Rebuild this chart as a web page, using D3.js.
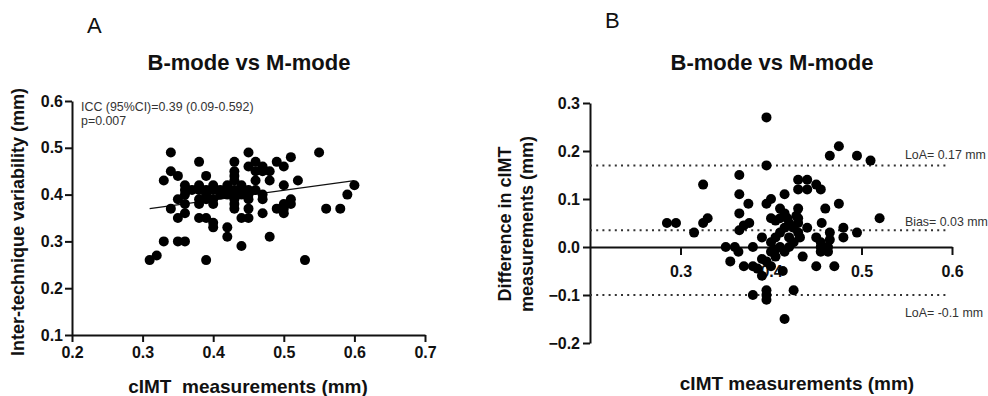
<!DOCTYPE html>
<html>
<head>
<meta charset="utf-8">
<script src="https://cdn.jsdelivr.net/npm/d3@7"></script>
<style>
  body { margin: 0; background: #fff; }
  svg { font-family: "Liberation Sans", Arial, sans-serif; }
  .tick text { font-size: 16px; font-weight: bold; fill: #111; }
  .domain, .tick line { stroke: #111; stroke-width: 2px; }
</style>
</head>
<body>
<div id="chart"></div>
<script>
// panel A: cIMT (x) vs inter-technique variability (y)
var pointsA = [
  [0.34,0.49],[0.45,0.49],[0.55,0.49],[0.51,0.48],[0.38,0.47],[0.43,0.47],[0.46,0.47],[0.49,0.47],
  [0.45,0.46],[0.47,0.46],[0.50,0.46],[0.34,0.45],[0.43,0.45],[0.46,0.45],[0.47,0.45],[0.48,0.45],
  [0.35,0.44],[0.39,0.44],[0.43,0.44],[0.33,0.43],[0.43,0.43],[0.46,0.43],[0.48,0.43],[0.52,0.43],
  [0.36,0.42],[0.38,0.42],[0.50,0.42],[0.60,0.42],[0.40,0.42],[0.42,0.42],[0.44,0.42],
  [0.36,0.41],[0.38,0.41],[0.40,0.41],[0.41,0.41],[0.42,0.41],[0.43,0.41],[0.44,0.41],[0.45,0.41],[0.46,0.41],
  [0.39,0.41],[0.37,0.41],
  [0.39,0.40],[0.41,0.40],[0.43,0.40],[0.47,0.40],[0.59,0.40],[0.36,0.40],[0.42,0.40],[0.44,0.40],[0.45,0.40],
  [0.35,0.39],[0.38,0.39],[0.39,0.39],[0.40,0.39],[0.43,0.39],[0.45,0.39],[0.47,0.39],[0.51,0.39],
  [0.36,0.38],[0.38,0.38],[0.40,0.38],[0.50,0.38],[0.51,0.38],[0.43,0.38],
  [0.34,0.37],[0.43,0.37],[0.45,0.37],[0.49,0.37],[0.50,0.37],[0.56,0.37],[0.58,0.37],
  [0.36,0.36],[0.47,0.36],[0.50,0.36],
  [0.35,0.35],[0.38,0.35],[0.39,0.35],[0.44,0.35],[0.45,0.35],[0.40,0.34],
  [0.40,0.33],[0.42,0.33],[0.42,0.31],[0.48,0.31],
  [0.33,0.30],[0.35,0.30],[0.36,0.30],[0.44,0.29],
  [0.32,0.27],[0.31,0.26],[0.39,0.26],[0.53,0.26]
];
var fitA = [[0.31,0.37],[0.60,0.43]];
var ticksAx = [0.2,0.3,0.4,0.5,0.6,0.7];
var ticksAy = [0.1,0.2,0.3,0.4,0.5,0.6];

// panel B: Bland-Altman, mean (x) vs difference (y)
var pointsB = [
  [0.395,0.27],[0.395,0.17],[0.465,0.19],[0.475,0.21],[0.495,0.19],[0.51,0.18],[0.365,0.15],[0.325,0.13],
  [0.43,0.14],[0.44,0.14],[0.43,0.12],[0.44,0.12],[0.455,0.12],[0.45,0.13],
  [0.365,0.11],[0.375,0.09],[0.395,0.09],[0.40,0.10],[0.415,0.11],[0.365,0.07],[0.41,0.08],[0.415,0.07],
  [0.43,0.08],[0.43,0.06],[0.46,0.08],[0.475,0.09],
  [0.285,0.05],[0.295,0.05],[0.325,0.05],[0.33,0.06],[0.52,0.06],[0.376,0.05],
  [0.315,0.03],[0.365,0.035],[0.37,0.045],[0.39,0.02],
  [0.35,0.0],[0.36,0.0],[0.38,0.0],[0.364,-0.01],[0.355,-0.03],[0.37,-0.04],[0.38,-0.04],[0.385,-0.045],
  [0.39,-0.025],[0.40,-0.04],[0.39,-0.06],[0.413,-0.05],
  [0.38,-0.10],[0.395,-0.09],[0.395,-0.10],[0.395,-0.11],[0.425,-0.09],[0.415,-0.15],
  [0.435,-0.02],[0.45,-0.04],[0.47,-0.04],[0.455,0.0],[0.463,0.0],[0.455,-0.01],[0.463,-0.01],
  [0.45,0.02],[0.455,0.01],[0.465,0.015],[0.465,0.03],[0.456,0.05],[0.48,0.04],[0.495,0.03],[0.48,0.02],
  [0.44,0.04],[0.432,0.02],
  [0.40,0.01],[0.405,0.02],[0.41,0.03],[0.41,0.0],[0.415,0.04],[0.42,0.02],[0.42,0.05],[0.425,0.01],
  [0.415,-0.01],[0.405,-0.02],[0.40,-0.01],[0.43,0.03],[0.42,0.0],[0.41,0.06],[0.43,0.05],[0.425,0.04],
  [0.418,0.06],[0.428,0.065],[0.40,0.06],[0.405,0.055],[0.395,-0.03],[0.405,-0.005]
];
var refValues = [0.17, 0.035, -0.10];
var refLabels = ["LoA= 0.17 mm", "Bias= 0.03 mm", "LoA= -0.1 mm"];
var ticksBx = [0.3,0.4,0.5,0.6];
var ticksBy = [-0.2,-0.1,0.0,0.1,0.2,0.3];

var svg = d3.select("#chart").append("svg")
  .attr("width", 988).attr("height", 396);

var fmt = d3.format(".1f");

// ---------- panel A ----------
var xA = d3.scaleLinear().domain([0.2, 0.7]).range([72, 425]);
var yA = d3.scaleLinear().domain([0.1, 0.6]).range([335, 101]);

svg.append("g").attr("transform", "translate(0," + yA(0.1) + ")")
  .call(d3.axisBottom(xA).tickValues(ticksAx).tickFormat(fmt).tickSize(7).tickSizeOuter(0).tickPadding(5));
svg.append("g").attr("transform", "translate(" + xA(0.2) + ",0)")
  .call(d3.axisLeft(yA).tickValues(ticksAy).tickFormat(fmt).tickSize(7).tickSizeOuter(0).tickPadding(2));

svg.append("line")
  .attr("x1", xA(fitA[0][0])).attr("y1", yA(fitA[0][1]))
  .attr("x2", xA(fitA[1][0])).attr("y2", yA(fitA[1][1]))
  .attr("stroke", "#111").attr("stroke-width", 1.3);

svg.append("g").selectAll("circle")
  .data(pointsA).enter().append("circle")
  .attr("cx", function (d) { return xA(d[0]); })
  .attr("cy", function (d) { return yA(d[1]); })
  .attr("r", 5)
  .attr("fill", "#000");

svg.append("text").attr("x", 81).attr("y", 111)
  .attr("font-size", 12.4).attr("fill", "#333")
  .text("ICC (95%CI)=0.39 (0.09-0.592)");
svg.append("text").attr("x", 81).attr("y", 125)
  .attr("font-size", 12.4).attr("fill", "#333")
  .text("p=0.007");

svg.append("text").attr("x", 87).attr("y", 33)
  .attr("font-size", 22).attr("fill", "#111").text("A");
svg.append("text").attr("x", 249).attr("y", 70)
  .attr("text-anchor", "middle").attr("font-size", 22).attr("font-weight", "bold")
  .attr("fill", "#111").text("B-mode vs M-mode");
svg.append("text").attr("x", 248).attr("y", 393)
  .attr("text-anchor", "middle").attr("font-size", 19).attr("font-weight", "bold")
  .attr("fill", "#111").style("white-space", "pre").text("cIMT  measurements (mm)");
svg.append("text").attr("transform", "translate(24,222) rotate(-90)")
  .attr("text-anchor", "middle").attr("font-size", 18).attr("font-weight", "bold")
  .attr("fill", "#111").text("Inter-technique variability (mm)");

// ---------- panel B ----------
var xB = d3.scaleLinear().domain([0.2, 0.6]).range([590, 952]);
var yB = d3.scaleLinear().domain([-0.2, 0.3]).range([343, 103]);

svg.append("g").attr("transform", "translate(0," + yB(0) + ")")
  .call(d3.axisBottom(xB).tickValues(ticksBx).tickFormat(fmt).tickSize(8).tickSizeOuter(0).tickPadding(11));
svg.append("g").attr("transform", "translate(" + xB(0.2) + ",0)")
  .call(d3.axisLeft(yB).tickValues(ticksBy).tickFormat(fmt).tickSize(7).tickSizeOuter(0).tickPadding(3));

svg.append("g").selectAll("line")
  .data(refValues).enter().append("line")
  .attr("x1", xB(0.2)).attr("x2", xB(0.595))
  .attr("y1", function (d) { return yB(d); })
  .attr("y2", function (d) { return yB(d); })
  .attr("stroke", "#333").attr("stroke-width", 2)
  .attr("stroke-dasharray", "2,4.2");

var labelDy = [-6, -4, 22];
svg.append("g").selectAll("text")
  .data(refValues).enter().append("text")
  .attr("x", xB(0.548))
  .attr("y", function (d, i) { return yB(d) + labelDy[i]; })
  .attr("font-size", 12.4).attr("fill", "#333")
  .text(function (d, i) { return refLabels[i]; });

svg.append("g").selectAll("circle")
  .data(pointsB).enter().append("circle")
  .attr("cx", function (d) { return xB(d[0]); })
  .attr("cy", function (d) { return yB(d[1]); })
  .attr("r", 5)
  .attr("fill", "#000");

svg.append("text").attr("x", 605).attr("y", 28)
  .attr("font-size", 22).attr("fill", "#111").text("B");
svg.append("text").attr("x", 772).attr("y", 70)
  .attr("text-anchor", "middle").attr("font-size", 22).attr("font-weight", "bold")
  .attr("fill", "#111").text("B-mode vs M-mode");
svg.append("text").attr("x", 797).attr("y", 390)
  .attr("text-anchor", "middle").attr("font-size", 19).attr("font-weight", "bold")
  .attr("fill", "#111").text("cIMT measurements (mm)");

var yLabB = svg.append("text").attr("transform", "translate(511,224) rotate(-90)")
  .attr("text-anchor", "middle").attr("font-size", 18).attr("font-weight", "bold")
  .attr("fill", "#111");
yLabB.append("tspan").attr("x", 0).attr("dy", 0).text("Difference in cIMT");
yLabB.append("tspan").attr("x", 0).attr("dy", 22).text("measurements (mm)");
</script>
</body>
</html>
